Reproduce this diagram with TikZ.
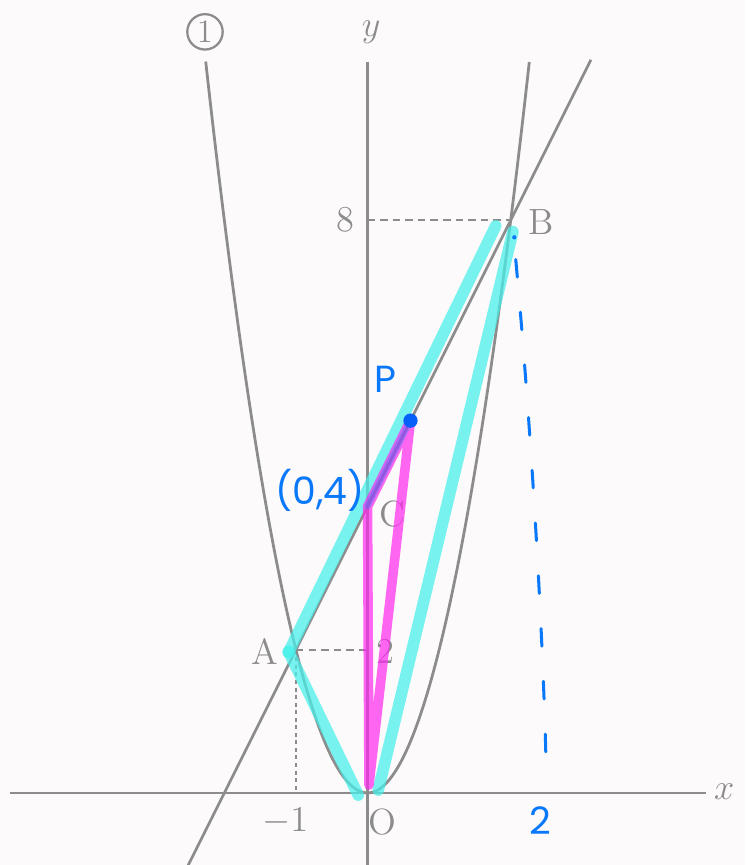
\documentclass[tikz,border=0pt]{standalone}
\usepackage{fontspec}
\newfontfamily\handfont{Poppins}
\usetikzlibrary{positioning}
\definecolor{paper}{RGB}{252,250,250}
\definecolor{ink}{RGB}{140,140,140}
\definecolor{hlcyan}{RGB}{70,240,235}
\definecolor{hlpink}{RGB}{255,40,240}
\definecolor{pen}{RGB}{10,120,250}
\tikzset{
    every node/.style={font=\fontsize{14.5}{17}\selectfont, text=ink},
    axisline/.style={draw=ink, line width=1pt},
    curve/.style={draw=ink, line width=1.1pt},
    guide/.style={draw=ink, line width=0.9pt, dash pattern=on 3pt off 2pt},
    fineguide/.style={draw=ink, line width=0.9pt, dash pattern=on 1.6pt off 1.4pt},
    hilite/.style={draw=hlcyan, line width=4.6pt, opacity=0.72, line cap=round, line join=round},
    tri/.style={draw=hlpink, line width=3.8pt, opacity=0.7, line cap=round, line join=round},
    hand/.style={text=pen, font=\handfont\fontsize{15}{18}\selectfont}
}

\begin{document}
\begin{tikzpicture}[x=1cm, y=1cm]

\fill[paper] (-5.133,-1.006) rectangle (5.273,11.075);
\useasboundingbox (-5.133,-1.006) rectangle (5.273,11.075);

% points
\coordinate (O) at (0,0);
\coordinate (A) at (-1,2);
\coordinate (B) at (2,8);
\coordinate (C) at (0,4);
\coordinate (P) at (0.6,5.2);

% axes
\draw[axisline] (-5.0,0) -- (4.73,0);
\draw[axisline] (0,-1.1) -- (0,10.21);
\node (xlab) at (4.98,0.02) {$x$};
\node (ylab) at (0.05,10.63) {$y$};

% parabola and line
\draw[curve] plot[domain=-2.26:2.26, samples=80, smooth] (\x,{2*\x*\x});
\draw[curve] (-2.6,-1.2) -- (3.12,10.24);
\node[circle, draw=ink, line width=0.9pt, inner sep=1.2pt,
      font=\fontsize{13}{14}\selectfont] (one) at (-2.27,10.63) {1};

% guides
\draw[guide] (A) -- (0,2);
\draw[fineguide] (A) -- (-1,0);
\draw[guide] (0,8) -- (B);

% labels
\node (tick8) at (-0.31,8) {8};
\node (tick2) at (0.25,1.98) {2};
\node (tickm1) at (-1.15,-0.4) {$-1$};
\node (labO) at (0.21,-0.4) {O};
\node (labA) at (-1.43,1.97) {A};
\node (labB) at (2.42,7.98) {B};
\node (labC) at (0.35,3.89) {C};

% highlighter strokes
\draw[hilite] (1.79,7.92) -- (-1.1,1.97) -- (-0.13,-0.03);
\draw[hilite] (0.15,0.04) -- (2.03,7.84);
\fill[hlcyan, opacity=0.8] (-1.1,1.97) circle (0.09);
\draw[tri] (C) -- (0.02,0.11) -- (P) -- cycle;
\draw[draw=pen, line width=2.2pt, opacity=0.35, line cap=round] (C) -- (P);

% pen marks
\fill[pen!80!blue] (P) circle (0.1);
\fill[pen] (2.05,7.76) circle (0.03);
\draw[pen, line width=1.2pt, line cap=round, dash pattern=on 7pt off 14pt]
    (2.07,7.45) .. controls (2.25,5.5) and (2.45,2.5) .. (2.5,0.15);
\node[hand] (labP) at (0.25,5.77) {P};
\node[hand] (lab04) at (-0.66,4.23) {(0,4)};
\node[hand] (lab2) at (2.42,-0.38) {2};

\end{tikzpicture}
\end{document}
